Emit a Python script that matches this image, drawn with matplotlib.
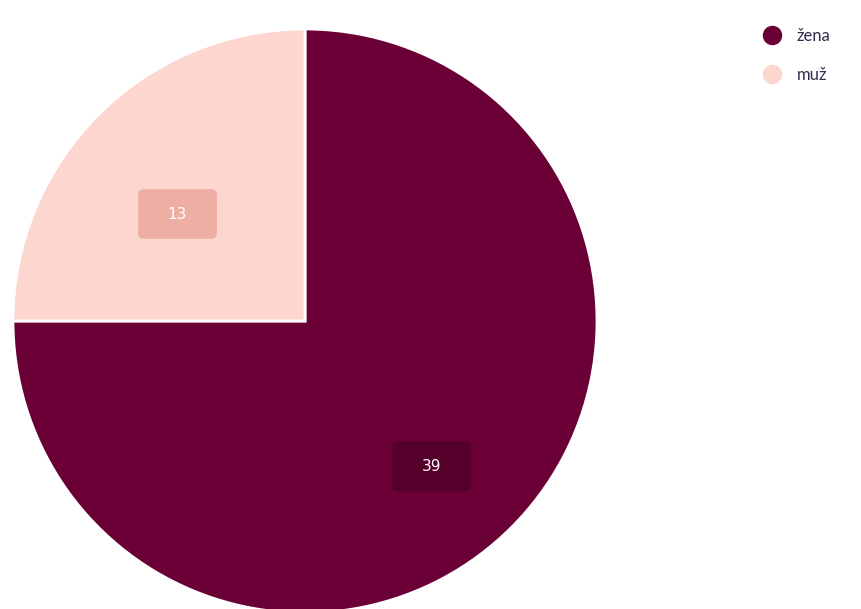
import numpy as np
import matplotlib
matplotlib.use('Agg')
import matplotlib.pyplot as plt
from matplotlib.lines import Line2D
from matplotlib.patches import FancyBboxPatch

labels = ['žena', 'muž']
values = [39, 13]
colors = ['#6b0036', '#fdd6d0']
box_colors = ['#55002b', '#eeaea3']

fig = plt.figure(figsize=(8.62, 6.09), dpi=100)
# axes placed so that the pie sits left, slightly cut at the bottom
ax = fig.add_axes([13 / 862, -4 / 609, 584 / 862, 584 / 609])
wedges, _ = ax.pie(values, colors=colors, startangle=90, counterclock=False,
                   wedgeprops=dict(edgecolor='white', linewidth=2))
ax.set_xlim(-1, 1)
ax.set_ylim(-1, 1)
ax.set_aspect('equal')
ax.axis('off')

# value boxes near the middle of each wedge
bw, bh = 0.27, 0.17
for w, v, bc, dist, shift in zip(wedges, values, box_colors, [0.66, 0.57], [-4, 5]):
    ang = np.deg2rad((w.theta1 + w.theta2) / 2 + shift)
    x, y = dist * np.cos(ang), dist * np.sin(ang)
    ax.add_patch(FancyBboxPatch((x - bw / 2, y - bh / 2), bw, bh,
                                boxstyle='round,pad=0,rounding_size=0.02',
                                fc=bc, ec='none'))
    ax.text(x, y, str(v), ha='center', va='center', color='white', fontsize=11)

handles = [Line2D([0], [0], marker='o', linestyle='', markersize=13,
                  markerfacecolor=c, markeredgecolor=c) for c in colors]
fig.legend(handles, labels, loc='upper left', bbox_to_anchor=(740 / 862, 1 - 13 / 609),
           frameon=False, labelspacing=1.35, handletextpad=0.5,
           labelcolor='#2e2e4e', prop={'family': 'Lato', 'size': 12})

fig.savefig('out.png', dpi=100)
